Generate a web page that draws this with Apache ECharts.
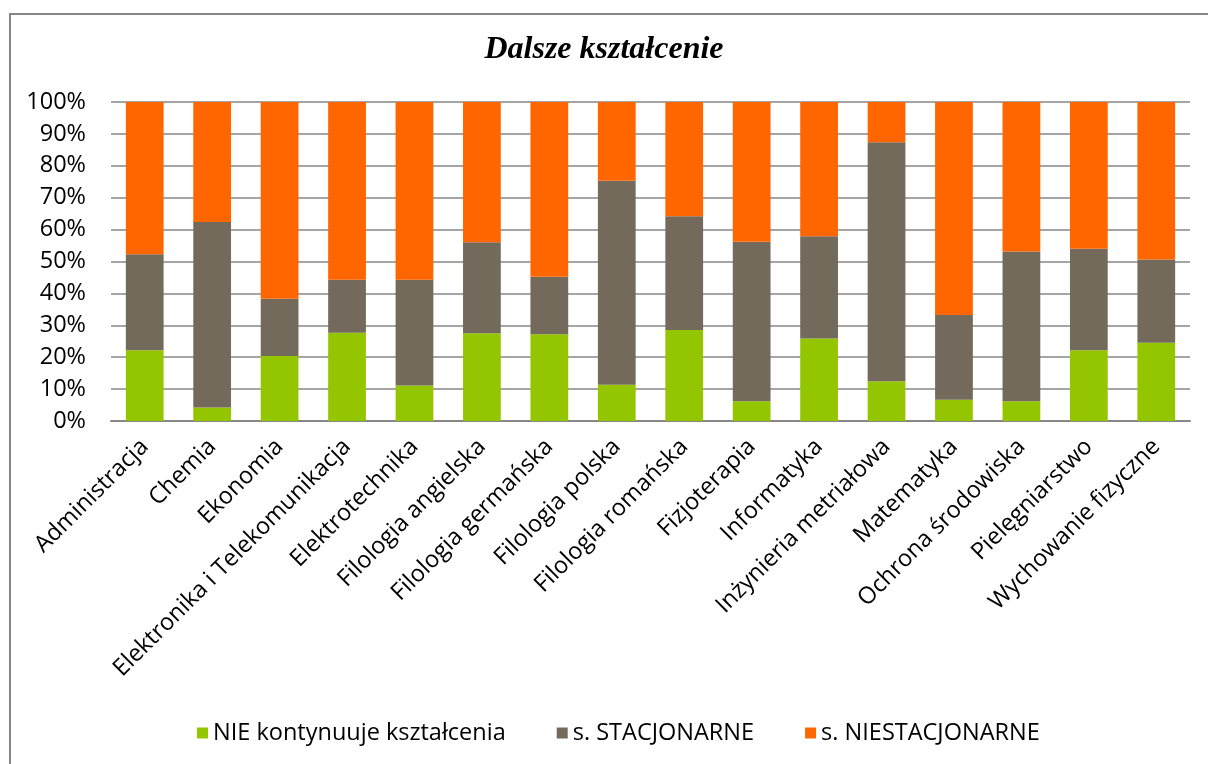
<!DOCTYPE html>
<html>
<head>
<meta charset="utf-8">
<title>Dalsze kształcenie</title>
<script src="https://cdn.jsdelivr.net/npm/echarts@6/dist/echarts.min.js"></script>
<style>
    html, body { margin: 0; padding: 0; background: #fff; }
    #main { width: 1208px; height: 764px; }
</style>
</head>
<body>
<div id="main"></div>
<script>
// kierunki studiów
var kierunki = ['Administracja', 'Chemia', 'Ekonomia', 'Elektronika i Telekomunikacja', 'Elektrotechnika',
    'Filologia angielska', 'Filologia germańska', 'Filologia polska', 'Filologia romańska', 'Fizjoterapia',
    'Informatyka', 'Inżynieria metriałowa', 'Matematyka', 'Ochrona środowiska', 'Pielęgniarstwo', 'Wychowanie fizyczne'];

// udziały w %
var nieKontynuuje = [22.2, 4.2, 20.4, 27.7, 11.1, 27.5, 27.2, 11.4, 28.5, 6.2, 25.9, 12.5, 6.7, 6.2, 22.2, 24.5];
var stacjonarne = [30.1, 58.2, 17.9, 16.6, 33.2, 28.5, 18.0, 63.9, 35.7, 50.0, 32.0, 74.9, 26.5, 46.9, 31.8, 26.1];
var niestacjonarne = [47.7, 37.6, 61.7, 55.7, 55.7, 44.0, 54.8, 24.7, 35.8, 43.8, 42.1, 12.6, 66.8, 46.9, 46.0, 49.4];

var yTicks = [0, 10, 20, 30, 40, 50, 60, 70, 80, 90, 100];

var chart = echarts.init(document.getElementById('main'));

var font = '"Open Sans", sans-serif';

var option = {
    backgroundColor: '#fff',
    animation: false,
    color: ['#94C600', '#736A5B', '#FF6600'],
    title: {
        text: 'Dalsze kształcenie',
        left: 'center',
        top: 29,
        textStyle: {
            fontFamily: '"Liberation Serif", serif',
            fontStyle: 'italic',
            fontWeight: 'bold',
            fontSize: 32,
            color: '#000'
        }
    },
    graphic: [
        {
            // ramka wykresu
            type: 'rect',
            shape: { x: 10, y: 14, width: 1240, height: 800 },
            style: { fill: 'none', stroke: '#878787', lineWidth: 2 },
            silent: true
        }
    ],
    legend: {
        left: 192,
        top: 716,
        itemWidth: 11,
        itemHeight: 11,
        itemGap: 51,
        icon: 'rect',
        textStyle: { fontFamily: font, fontSize: 23.5, color: '#000' },
        data: ['NIE kontynuuje kształcenia', 's. STACJONARNE', 's. NIESTACJONARNE']
    },
    grid: {
        left: 111,
        right: 18,
        top: 102,
        bottom: 343,
        containLabel: false
    },
    xAxis: {
        type: 'category',
        data: kierunki,
        axisLine: { lineStyle: { color: '#878787', width: 2 } },
        axisTick: { show: false },
        axisLabel: {
            interval: 0,
            rotate: 45,
            margin: 22,
            fontFamily: font,
            fontSize: 23.5,
            color: '#000'
        }
    },
    yAxis: {
        type: 'value',
        min: yTicks[0],
        max: yTicks[yTicks.length - 1],
        interval: 10,
        axisLine: { show: false },
        axisTick: { show: false },
        splitLine: { lineStyle: { color: '#878787', width: 1.5 } },
        axisLabel: {
            margin: 25,
            formatter: '{value}%',
            fontFamily: font,
            fontSize: 23.5,
            color: '#000'
        }
    },
    series: [
        {
            name: 'NIE kontynuuje kształcenia',
            type: 'bar',
            stack: 'razem',
            barWidth: '56%',
            data: nieKontynuuje
        },
        {
            name: 's. STACJONARNE',
            type: 'bar',
            stack: 'razem',
            barWidth: '56%',
            data: stacjonarne
        },
        {
            name: 's. NIESTACJONARNE',
            type: 'bar',
            stack: 'razem',
            barWidth: '56%',
            data: niestacjonarne
        }
    ]
};

chart.setOption(option);
</script>
</body>
</html>
